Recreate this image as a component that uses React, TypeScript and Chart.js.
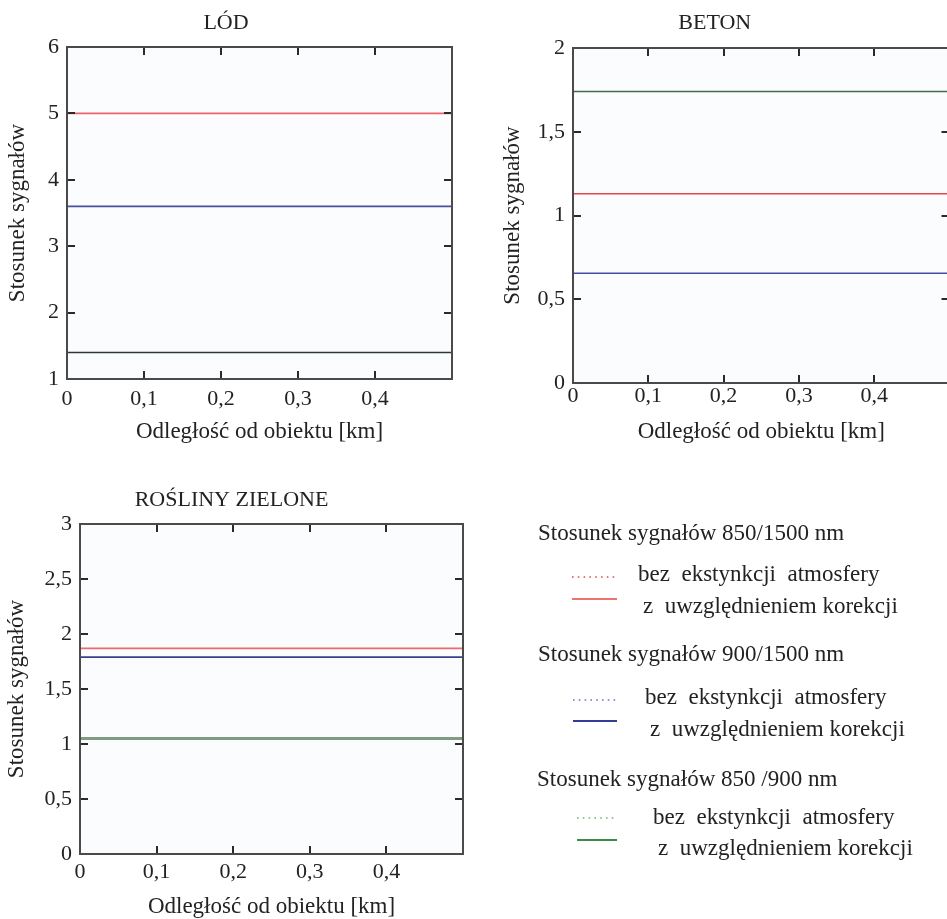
import React, { useEffect, useRef } from "react";
import { Chart, registerables } from "chart.js";

Chart.register(...registerables);

// ---------- data ----------
const distanceKm = [0, 0.5];

const lod850_1500 = [5.0, 5.0];
const lod900_1500 = [3.6, 3.6];
const lod850_900 = [1.4, 1.4];

const beton850_1500 = [1.13, 1.13];
const beton900_1500 = [0.655, 0.655];
const beton850_900 = [1.74, 1.74];

const rosliny850_1500 = [1.87, 1.87];
const rosliny900_1500 = [1.79, 1.79];
const rosliny850_900 = [1.05, 1.05];

const xTickStep = 0.1;
const xMax = 0.5;

const FONT = "'Liberation Serif', 'Times New Roman', serif";
const TEXT = "#222222";

const toPts = (arr: number[]) => distanceKm.map((d, i) => ({ x: d, y: arr[i] }));
const comma = (v: number) => {
  const r = Math.round(v * 100) / 100;
  return String(r).replace(".", ",");
};

const frameTicks = {
  id: "frameTicks",
  beforeDraw(chart: any) {
    const { ctx, chartArea } = chart;
    ctx.save();
    ctx.fillStyle = "#fbfcfe";
    ctx.fillRect(chartArea.left, chartArea.top, chartArea.right - chartArea.left, chartArea.bottom - chartArea.top);
    ctx.restore();
  },
  afterDatasetsDraw(chart: any) {
    const { ctx, chartArea, scales } = chart;
    const { left, top, right, bottom } = chartArea;
    const xs = scales.x;
    const ys = scales.y;
    const L = 8;
    ctx.save();
    ctx.strokeStyle = "#2a2a2a";
    ctx.lineWidth = 2;
    ctx.beginPath();
    xs.ticks.forEach((t: any) => {
      if (t.value <= xs.min + 1e-9 || t.value >= xs.max - 1e-9) return;
      const px = Math.round(xs.getPixelForValue(t.value));
      ctx.moveTo(px, bottom);
      ctx.lineTo(px, bottom - L);
      ctx.moveTo(px, top);
      ctx.lineTo(px, top + L);
    });
    ys.ticks.forEach((t: any) => {
      if (t.value <= ys.min + 1e-9 || t.value >= ys.max - 1e-9) return;
      const py = Math.round(ys.getPixelForValue(t.value));
      ctx.moveTo(left, py);
      ctx.lineTo(left + L, py);
      ctx.moveTo(right, py);
      ctx.lineTo(right - L, py);
    });
    ctx.stroke();
    ctx.strokeStyle = "#4a4a4a";
    ctx.lineWidth = 2;
    ctx.strokeRect(left, top, right - left, bottom - top);
    ctx.restore();
  },
};

type Series = { data: number[]; color: string; width: number };

type Cfg = {
  title: string;
  left: number;
  top: number;
  w: number;
  h: number;
  yW: number;
  xH: number;
  padRight: number;
  titlePad: { top: number; bottom: number };
  yTitlePad: number;
  xTitlePad: number;
  xTickPad: number;
  yMin: number;
  yMax: number;
  yStep: number;
  series: Series[];
};

function Panel({ cfg }: { cfg: Cfg }) {
  const ref = useRef<HTMLCanvasElement>(null);
  useEffect(() => {
    if (!ref.current) return;
    const chart = new Chart(ref.current, {
      type: "line",
      data: {
        datasets: cfg.series.map((s) => ({
          data: toPts(s.data),
          borderColor: s.color,
          borderWidth: s.width,
          pointRadius: 0,
          fill: false,
          tension: 0,
        })),
      },
      options: {
        responsive: false,
        animation: false,
        events: [],
        layout: { padding: { left: 0, top: 0, right: cfg.padRight, bottom: 0 } },
        plugins: {
          legend: { display: false },
          tooltip: { enabled: false },
          title: {
            display: true,
            text: cfg.title,
            color: TEXT,
            font: { family: FONT, size: 22, weight: "normal" },
            padding: cfg.titlePad,
          },
        },
        scales: {
          x: {
            type: "linear",
            min: 0,
            max: xMax,
            grid: { display: false, drawTicks: false },
            border: { display: false },
            ticks: {
              stepSize: xTickStep,
              padding: cfg.xTickPad,
              color: TEXT,
              font: { family: FONT, size: 22 },
              maxRotation: 0,
              autoSkip: false,
              callback: (v: any) => (Math.abs(v - xMax) < 1e-9 ? "" : Math.abs(v) < 1e-9 ? "0" : Number(v).toFixed(1).replace(".", ",")),
            },
            title: {
              display: true,
              text: "Odległość od obiektu [km]",
              color: TEXT,
              font: { family: FONT, size: 23 },
              padding: { top: 0, bottom: cfg.xTitlePad },
            },
            afterFit: (s: any) => {
              s.height = cfg.xH;
            },
          },
          y: {
            type: "linear",
            min: cfg.yMin,
            max: cfg.yMax,
            grid: { display: false, drawTicks: false },
            border: { display: false },
            ticks: {
              stepSize: cfg.yStep,
              padding: 8,
              color: TEXT,
              font: { family: FONT, size: 22 },
              callback: (v: any) => comma(Number(v)),
            },
            title: {
              display: true,
              text: "Stosunek sygnałów",
              color: TEXT,
              font: { family: FONT, size: 23 },
              padding: { top: cfg.yTitlePad, bottom: 0 },
            },
            afterFit: (s: any) => {
              s.width = cfg.yW;
            },
          },
        },
      } as any,
      plugins: [frameTicks],
    });
    return () => chart.destroy();
  }, [cfg]);
  return (
    <canvas
      ref={ref}
      width={cfg.w}
      height={cfg.h}
      style={{ position: "absolute", left: cfg.left, top: cfg.top, width: cfg.w, height: cfg.h }}
    />
  );
}

const panels: Cfg[] = [
  {
    title: "LÓD",
    left: 0,
    top: 0,
    w: 475,
    h: 450,
    yW: 67,
    xH: 71,
    padRight: 23,
    titlePad: { top: 10, bottom: 10.6 },
    yTitlePad: 4.2,
    xTitlePad: 4.2,
    xTickPad: 7,
    yMin: 1,
    yMax: 6,
    yStep: 1,
    series: [
      { data: lod850_1500, color: "#ec6268", width: 1.6 },
      { data: lod900_1500, color: "#4a4f9e", width: 1.6 },
      { data: lod850_900, color: "#2b3a2e", width: 1.4 },
    ],
  },
  {
    title: "BETON",
    left: 480,
    top: 0,
    w: 480,
    h: 450,
    yW: 93,
    xH: 67,
    padRight: 10.5,
    titlePad: { top: 10.3, bottom: 11.3 },
    yTitlePad: 19.2,
    xTitlePad: 4.2,
    xTickPad: 0,
    yMin: 0,
    yMax: 2,
    yStep: 0.5,
    series: [
      { data: beton850_900, color: "#3f6a48", width: 1.6 },
      { data: beton850_1500, color: "#e8454d", width: 1.6 },
      { data: beton900_1500, color: "#4a4aa2", width: 1.6 },
    ],
  },
  {
    title: "ROŚLINY ZIELONE",
    left: 0,
    top: 450,
    w: 480,
    h: 472,
    yW: 80,
    xH: 68,
    padRight: 17,
    titlePad: { top: 36.8, bottom: 10.8 },
    yTitlePad: 3.2,
    xTitlePad: 1.5,
    xTickPad: 5,
    yMin: 0,
    yMax: 3,
    yStep: 0.5,
    series: [
      { data: rosliny850_900, color: "#7f9c83", width: 3 },
      { data: rosliny850_1500, color: "#f06a6c", width: 1.8 },
      { data: rosliny900_1500, color: "#3c3f8c", width: 1.6 },
    ],
  },
];

const legendTexts = [
  { text: "Stosunek sygnałów 850/1500 nm", left: 538, top: 519 },
  { text: "bez  ekstynkcji  atmosfery", left: 638, top: 560 },
  { text: "z  uwzględnieniem korekcji", left: 643, top: 591.5 },
  { text: "Stosunek sygnałów 900/1500 nm", left: 538, top: 640 },
  { text: "bez  ekstynkcji  atmosfery", left: 645, top: 683 },
  { text: "z  uwzględnieniem korekcji", left: 650, top: 715 },
  { text: "Stosunek sygnałów 850 /900 nm", left: 537, top: 765 },
  { text: "bez  ekstynkcji  atmosfery", left: 653, top: 803 },
  { text: "z  uwzględnieniem korekcji", left: 658, top: 834 },
];

const legendSamples = [
  { x1: 572, x2: 617, y: 577, color: "#e04850", dash: "1.6 4.2", w: 1.4 },
  { x1: 572, x2: 617, y: 599, color: "#ee7272", dash: "", w: 2 },
  { x1: 573, x2: 617, y: 700, color: "#7070c4", dash: "1.6 4.2", w: 1.4 },
  { x1: 573, x2: 617, y: 721, color: "#343c96", dash: "", w: 2 },
  { x1: 577, x2: 615, y: 818, color: "#70b478", dash: "1.6 4.2", w: 1.4 },
  { x1: 577, x2: 617, y: 840, color: "#3a8a48", dash: "", w: 2 },
];

export default function App() {
  return (
    <div
      style={{
        position: "fixed",
        left: 0,
        top: 0,
        width: 947,
        height: 919,
        overflow: "hidden",
        background: "#ffffff",
      }}
    >
      {panels.map((p) => (
        <Panel key={p.title} cfg={p} />
      ))}
      <svg
        width={947}
        height={919}
        style={{ position: "absolute", left: 0, top: 0, pointerEvents: "none" }}
      >
        {legendSamples.map((s, i) => (
          <line
            key={i}
            x1={s.x1}
            x2={s.x2}
            y1={s.y}
            y2={s.y}
            stroke={s.color}
            strokeWidth={s.w}
            strokeDasharray={s.dash || undefined}
          />
        ))}
      </svg>
      {legendTexts.map((t, i) => (
        <div
          key={i}
          style={{
            position: "absolute",
            left: t.left,
            top: t.top,
            fontFamily: FONT,
            fontSize: 23,
            lineHeight: "28px",
            color: TEXT,
            whiteSpace: "pre",
          }}
        >
          {t.text}
        </div>
      ))}
    </div>
  );
}
